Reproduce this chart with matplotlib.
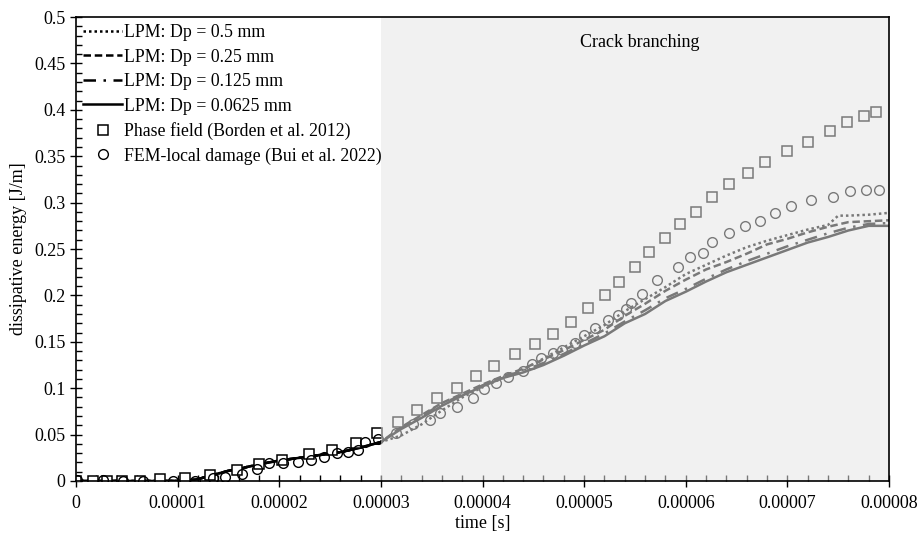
import matplotlib
matplotlib.use('Agg')
import matplotlib.pyplot as plt
from matplotlib.ticker import MultipleLocator, FuncFormatter

plt.rcParams['font.family'] = ['Liberation Serif', 'DejaVu Serif']
plt.rcParams['font.size'] = 13

#  ------- data (time in s, energy in J/m) -------  #
t_lpm = [0, 0.25e-5, 0.5e-5, 0.75e-5, 1.0e-5, 1.1e-5, 1.2e-5, 1.3e-5, 1.4e-5, 1.5e-5,
         1.6e-5, 1.8e-5, 2.0e-5, 2.2e-5, 2.4e-5, 2.6e-5, 2.8e-5, 3.0e-5,
         3.2e-5, 3.4e-5, 3.6e-5, 3.8e-5, 4.0e-5, 4.2e-5, 4.4e-5, 4.6e-5, 4.8e-5,
         5.0e-5, 5.2e-5, 5.4e-5, 5.6e-5, 5.8e-5, 6.0e-5, 6.2e-5, 6.4e-5, 6.6e-5,
         6.8e-5, 7.0e-5, 7.2e-5, 7.4e-5, 7.6e-5, 7.8e-5, 8.0e-5]
e_early = [0, 0, 0, 0, 0, 0.0005, 0.002, 0.005, 0.008, 0.011,
           0.013, 0.018, 0.022, 0.025, 0.028, 0.031, 0.036, 0.042]

e_dp0625 = e_early + [0.056, 0.068, 0.081, 0.092, 0.102, 0.111, 0.117, 0.125, 0.135,
                      0.146, 0.156, 0.170, 0.180, 0.194, 0.204, 0.215, 0.225, 0.233,
                      0.241, 0.249, 0.257, 0.263, 0.270, 0.275, 0.275]
e_dp0125 = e_early + [0.057, 0.070, 0.083, 0.093, 0.103, 0.112, 0.119, 0.127, 0.137,
                      0.148, 0.159, 0.172, 0.184, 0.197, 0.207, 0.218, 0.228, 0.237,
                      0.245, 0.253, 0.260, 0.267, 0.273, 0.277, 0.278]
e_dp025 = e_early + [0.058, 0.071, 0.084, 0.094, 0.104, 0.113, 0.121, 0.131, 0.141,
                     0.152, 0.163, 0.178, 0.191, 0.205, 0.217, 0.228, 0.236, 0.245,
                     0.255, 0.261, 0.268, 0.274, 0.279, 0.280, 0.281]

t_dp05 = t_lpm[:-3] + [7.5e-5, 7.6e-5, 7.8e-5, 8.0e-5]
e_dp05 = e_early + [0.049, 0.061, 0.076, 0.090, 0.101, 0.111, 0.120, 0.132, 0.144,
                    0.156, 0.168, 0.183, 0.196, 0.209, 0.223, 0.233, 0.243, 0.252,
                    0.259, 0.265, 0.271, 0.276, 0.286, 0.286, 0.287, 0.289]

t_borden = [0, 0.167e-5, 0.305e-5, 0.453e-5, 0.63e-5, 0.827e-5, 1.07e-5, 1.32e-5,
            1.58e-5, 1.80e-5, 2.03e-5, 2.29e-5, 2.52e-5, 2.76e-5, 2.96e-5, 3.17e-5,
            3.36e-5, 3.55e-5, 3.75e-5, 3.94e-5, 4.11e-5, 4.32e-5, 4.52e-5, 4.69e-5,
            4.87e-5, 5.04e-5, 5.21e-5, 5.34e-5, 5.50e-5, 5.64e-5, 5.80e-5, 5.94e-5,
            6.10e-5, 6.26e-5, 6.43e-5, 6.61e-5, 6.78e-5, 7.00e-5, 7.20e-5, 7.42e-5,
            7.59e-5, 7.75e-5, 7.87e-5]
e_borden = [0, 0, 0, 0, 0, 0.002, 0.003, 0.0065, 0.012, 0.018, 0.023, 0.029, 0.033,
            0.041, 0.052, 0.064, 0.0765, 0.089, 0.100, 0.113, 0.124, 0.137, 0.148,
            0.158, 0.171, 0.186, 0.200, 0.214, 0.231, 0.247, 0.262, 0.277, 0.290,
            0.306, 0.320, 0.332, 0.344, 0.356, 0.365, 0.377, 0.387, 0.393, 0.398]

t_bui = [0.01e-5, 0.27e-5, 0.46e-5, 0.66e-5, 0.95e-5, 1.17e-5, 1.35e-5, 1.47e-5,
         1.63e-5, 1.78e-5, 1.90e-5, 2.04e-5, 2.18e-5, 2.31e-5, 2.44e-5, 2.57e-5,
         2.68e-5, 2.77e-5, 2.84e-5, 2.97e-5, 3.15e-5, 3.32e-5, 3.48e-5, 3.58e-5,
         3.75e-5, 3.91e-5, 4.01e-5, 4.13e-5, 4.25e-5, 4.40e-5, 4.49e-5, 4.58e-5,
         4.69e-5, 4.78e-5, 4.91e-5, 5.00e-5, 5.11e-5, 5.23e-5, 5.33e-5, 5.41e-5,
         5.46e-5, 5.57e-5, 5.72e-5, 5.92e-5, 6.04e-5, 6.17e-5, 6.26e-5, 6.43e-5,
         6.58e-5, 6.73e-5, 6.88e-5, 7.04e-5, 7.23e-5, 7.45e-5, 7.62e-5, 7.77e-5,
         7.90e-5]
e_bui = [0.001, 0.001, 0, 0, 0, 0, 0.003, 0.004, 0.0075, 0.013, 0.019, 0.019, 0.020,
         0.0226, 0.026, 0.030, 0.031, 0.033, 0.042, 0.045, 0.052, 0.061, 0.066, 0.073,
         0.080, 0.089, 0.099, 0.106, 0.112, 0.119, 0.126, 0.133, 0.138, 0.141, 0.149,
         0.157, 0.165, 0.173, 0.179, 0.185, 0.192, 0.2015, 0.217, 0.231, 0.241, 0.246,
         0.258, 0.267, 0.275, 0.280, 0.289, 0.296, 0.303, 0.306, 0.3125, 0.3136, 0.3136]

branch_start = 3e-5
t_max = 8e-5

#  ------- plot -------  #
fig = plt.figure(figsize=(9.19, 5.34), dpi=100)
ax = fig.add_axes([0.0827, 0.0993, 0.8847, 0.8687])

lw = 1.8
ax.plot(t_dp05, e_dp05, color='black', lw=lw, linestyle=(0, (1, 1.2)), label='LPM: Dp = 0.5 mm')
ax.plot(t_lpm, e_dp025, color='black', lw=lw, linestyle=(0, (3, 1.5)), label='LPM: Dp = 0.25 mm')
ax.plot(t_lpm, e_dp0125, color='black', lw=lw, linestyle=(0, (5, 3, 1, 3)), label='LPM: Dp = 0.125 mm')
ax.plot(t_lpm, e_dp0625, color='black', lw=lw, linestyle='-', label='LPM: Dp = 0.0625 mm')
ax.plot(t_borden, e_borden, linestyle='none', marker='s', ms=7, mfc='white',
        mec='black', mew=1.1, label='Phase field (Borden et al. 2012)')
ax.plot(t_bui, e_bui, linestyle='none', marker='o', ms=7, mfc='none',
        mec='black', mew=1.0, label='FEM-local damage (Bui et al. 2022)')

# grey veil over the branching stage
ax.axvspan(branch_start, t_max, facecolor=(0.9, 0.9, 0.9), alpha=0.53,
           edgecolor='none', zorder=3)
ax.text(5.55e-5, 0.473, 'Crack branching', ha='center', va='center', fontsize=13, zorder=4)

ax.set_xlim(0, t_max)
ax.set_ylim(0, 0.5)
ax.xaxis.set_major_locator(MultipleLocator(1e-5))
ax.xaxis.set_minor_locator(MultipleLocator(2e-6))
ax.yaxis.set_major_locator(MultipleLocator(0.05))
ax.yaxis.set_minor_locator(MultipleLocator(0.01))
ax.xaxis.set_major_formatter(FuncFormatter(lambda v, p: '0' if abs(v) < 1e-12 else ('%.5f' % v)))
ax.yaxis.set_major_formatter(FuncFormatter(lambda v, p: '%g' % round(v, 2)))
ax.tick_params(which='major', direction='inout', length=8, width=1, labelsize=13)
ax.tick_params(which='minor', direction='in', length=4, width=1)
ax.tick_params(axis='x', pad=6)
for s in ax.spines.values():
    s.set_linewidth(1.2)
    s.set_zorder(5)

ax.set_xlabel('time [s]', fontsize=13, labelpad=2)
ax.set_ylabel('dissipative energy [J/m]', fontsize=13, labelpad=5)

leg = ax.legend(loc='upper left', frameon=False, fontsize=12.8, handlelength=2.2,
                handletextpad=0.1, labelspacing=0.42, borderaxespad=0.2,
                borderpad=0.2)
leg.set_zorder(6)

fig.savefig('out.png', dpi=100)
